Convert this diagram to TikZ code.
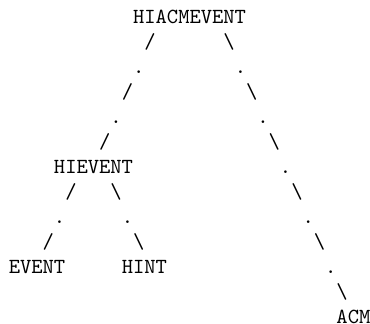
\documentclass[tikz,border=0pt]{standalone}
\usepackage{fontspec}
\usepackage{tikz}
\usetikzlibrary{positioning}
\tikzstyle{glyph} = [inner sep=0pt, font=\ttfamily\fontsize{10.76}{12}\selectfont, text height=7pt, text depth=2pt]
\newcommand{\cw}{5.65pt}

\begin{document}
\begin{tikzpicture}[node distance=12.5pt]
\useasboundingbox (0,0) rectangle (185pt,-162pt);

\node (root) [glyph] at (94.775pt,-9.5pt) {HIACMEVENT};

% left branch down to HIEVENT
\node (l1) [glyph, below of=root, xshift=-3.5*\cw] {/};
\node (l2) [glyph, below of=l1, xshift=-\cw] {.};
\node (l3) [glyph, below of=l2, xshift=-\cw] {/};
\node (l4) [glyph, below of=l3, xshift=-\cw] {.};
\node (l5) [glyph, below of=l4, xshift=-\cw] {/};
\node (hievent) [glyph, below of=l5, xshift=-\cw] {HIEVENT};

\node (a1) [glyph, below of=hievent, xshift=-2*\cw] {/};
\node (a2) [glyph, below of=a1, xshift=-\cw] {.};
\node (a3) [glyph, below of=a2, xshift=-\cw] {/};
\node (event) [glyph, below of=a3, xshift=-\cw] {EVENT};

\node (b1) [glyph, below of=hievent, xshift=2*\cw] {\textbackslash};
\node (b2) [glyph, below of=b1, xshift=\cw] {.};
\node (b3) [glyph, below of=b2, xshift=\cw] {\textbackslash};
\node (hint) [glyph, below of=b3, xshift=0.5*\cw] {HINT};

% right branch down to ACM
\node (r1) [glyph, below of=root, xshift=3.5*\cw] {\textbackslash};
\node (r2) [glyph, below of=r1, xshift=\cw] {.};
\node (r3) [glyph, below of=r2, xshift=\cw] {\textbackslash};
\node (r4) [glyph, below of=r3, xshift=\cw] {.};
\node (r5) [glyph, below of=r4, xshift=\cw] {\textbackslash};
\node (r6) [glyph, below of=r5, xshift=\cw] {.};
\node (r7) [glyph, below of=r6, xshift=\cw] {\textbackslash};
\node (r8) [glyph, below of=r7, xshift=\cw] {.};
\node (r9) [glyph, below of=r8, xshift=\cw] {\textbackslash};
\node (r10) [glyph, below of=r9, xshift=\cw] {.};
\node (r11) [glyph, below of=r10, xshift=\cw] {\textbackslash};
\node (acm) [glyph, below of=r11, xshift=\cw] {ACM};

\end{tikzpicture}
\end{document}
